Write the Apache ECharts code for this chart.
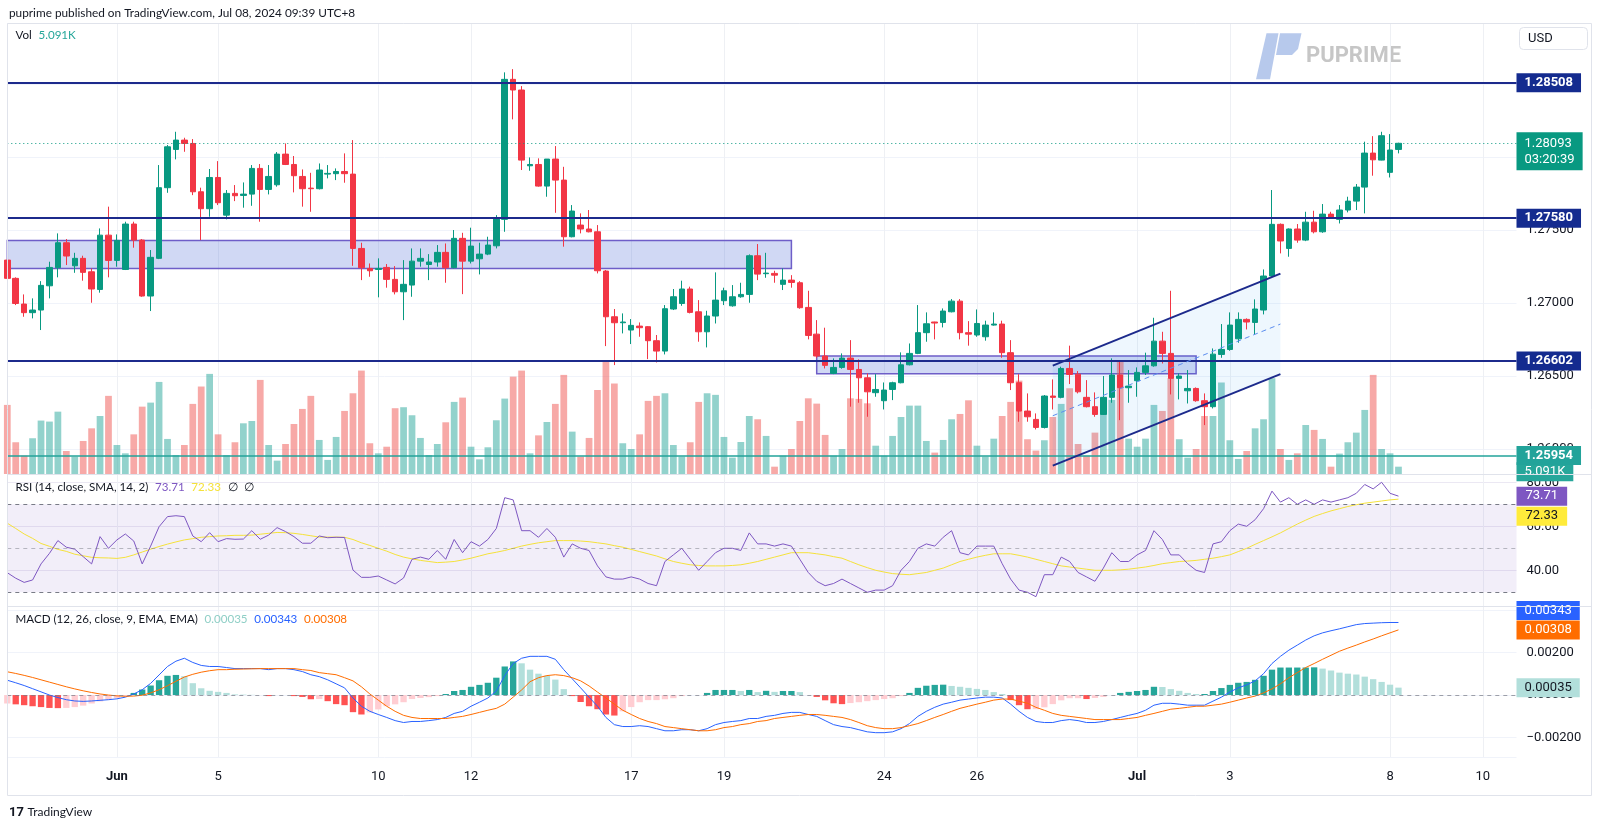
<!DOCTYPE html>
<html><head><meta charset="utf-8">
<script src="https://cdn.jsdelivr.net/npm/echarts@6/dist/echarts.min.js"></script>
<style>html,body{margin:0;padding:0;background:#fff}#c{width:1600px;height:819px}</style>
</head><body><div id="c"></div>
<script>
// ---------------- DATA ----------------
// 4h candles GBPUSD, UTC+8 sessions; first candle 2024-05-29 21:00
const firstCandle = '2024-05-29 21';
const totalSlots = 180; // candles + empty future slots
// [open, close, low, high]
const ohlc = [
[1.27293,1.27168,1.27156,1.27442],
[1.27168,1.26996,1.26985,1.27175],[1.26992,1.26933,1.26905,1.27058],[1.26933,1.26951,1.26894,1.27031],[1.26951,1.27120,1.26814,1.27149],[1.27117,1.27243,1.27031,1.27282],
[1.27241,1.27412,1.27175,1.27476],[1.27412,1.27321,1.27259,1.27437],[1.27254,1.27305,1.27206,1.27343],[1.27305,1.27209,1.27152,1.27323],[1.27213,1.27095,1.27001,1.27236],
[1.27092,1.27464,1.27070,1.27510],[1.27464,1.27291,1.27175,1.27659],[1.27291,1.27428,1.27248,1.27469],[1.27229,1.27540,1.27225,1.27556],[1.27540,1.27430,1.27378,1.27556],
[1.27430,1.27047,1.27042,1.27437],[1.27047,1.27312,1.26944,1.27362],[1.27305,1.27789,1.27300,1.27944],[1.27789,1.28069,1.27754,1.28081],[1.28051,1.28115,1.27983,1.28172],
[1.28115,1.28092,1.28035,1.28131],[1.28092,1.27761,1.27738,1.28122],[1.27761,1.27645,1.27430,1.27789],[1.27645,1.27859,1.27590,1.27917],[1.27859,1.27686,1.27670,1.27971],
[1.27601,1.27750,1.27572,1.27773],[1.27750,1.27734,1.27697,1.27807],[1.27736,1.27745,1.27652,1.27825],[1.27745,1.27921,1.27665,1.27944],[1.27921,1.27777,1.27556,1.27951],
[1.27777,1.27866,1.27743,1.27944],[1.27809,1.28019,1.27796,1.28033],[1.28019,1.27948,1.27944,1.28092],[1.27948,1.27871,1.27757,1.28006],[1.27866,1.27782,1.27659,1.27914],
[1.27786,1.27782,1.27624,1.27891],[1.27782,1.27910,1.27777,1.27955],[1.27882,1.27887,1.27853,1.27944],[1.27885,1.27900,1.27841,1.27921],[1.27900,1.27885,1.27823,1.28024],
[1.27882,1.27373,1.27254,1.28115],[1.27373,1.27241,1.27156,1.27412],[1.27236,1.27220,1.27179,1.27270],[1.27229,1.27236,1.27038,1.27305],[1.27243,1.27161,1.27104,1.27266],
[1.27161,1.27076,1.27058,1.27252],[1.27076,1.27127,1.26882,1.27293],[1.27122,1.27286,1.27042,1.27373],[1.27286,1.27305,1.27248,1.27373],[1.27263,1.27280,1.27156,1.27334],
[1.27280,1.27346,1.27248,1.27396],[1.27346,1.27241,1.27138,1.27407],[1.27241,1.27442,1.27236,1.27499],[1.27442,1.27286,1.27060,1.27480],[1.27286,1.27389,1.27270,1.27515],
[1.27302,1.27334,1.27195,1.27412],[1.27334,1.27396,1.27327,1.27453],[1.27391,1.27574,1.27373,1.27601],[1.27572,1.28531,1.27487,1.28579],[1.28531,1.28458,1.28257,1.28601],
[1.28458,1.27978,1.27910,1.28485],[1.27939,1.27948,1.27905,1.27996],[1.27948,1.27800,1.27796,1.27990],[1.27800,1.27985,1.27727,1.27985],[1.27985,1.27841,1.27617,1.28074],
[1.27841,1.27453,1.27385,1.27932],[1.27453,1.27629,1.27449,1.27670],[1.27533,1.27506,1.27476,1.27613],[1.27506,1.27487,1.27483,1.27636],[1.27487,1.27220,1.27202,1.27533],
[1.27218,1.26905,1.26704,1.27225],[1.26905,1.26864,1.26574,1.26958],[1.26864,1.26869,1.26791,1.26928],[1.26814,1.26846,1.26718,1.26889],[1.26841,1.26830,1.26768,1.26866],
[1.26837,1.26741,1.26615,1.26841],[1.26741,1.26670,1.26592,1.26780],[1.26670,1.26960,1.26647,1.26985],[1.26958,1.27042,1.26951,1.27095],[1.26996,1.27095,1.26980,1.27152],
[1.27095,1.26935,1.26928,1.27111],[1.26939,1.26802,1.26734,1.27019],[1.26802,1.26910,1.26695,1.26946],[1.26910,1.27019,1.26859,1.27209],[1.27015,1.27083,1.26985,1.27104],
[1.26980,1.27042,1.26974,1.27122],[1.27042,1.27058,1.27035,1.27138],[1.27058,1.27323,1.27001,1.27332],[1.27323,1.27197,1.27156,1.27403],[1.27200,1.27204,1.27172,1.27343],
[1.27202,1.27190,1.27138,1.27220],[1.27127,1.27156,1.27088,1.27236],[1.27156,1.27140,1.27104,1.27190],[1.27138,1.26967,1.26960,1.27149],[1.26969,1.26777,1.26750,1.27083],
[1.26786,1.26636,1.26624,1.26882],[1.26636,1.26572,1.26551,1.26830],[1.26517,1.26558,1.26512,1.26620],[1.26558,1.26622,1.26549,1.26654],[1.26622,1.26544,1.26289,1.26745],
[1.26544,1.26487,1.26316,1.26613],[1.26487,1.26391,1.26220,1.26517],[1.26385,1.26407,1.26357,1.26512],[1.26330,1.26403,1.26270,1.26455],[1.26407,1.26453,1.26334,1.26460],
[1.26453,1.26576,1.26449,1.26661],[1.26576,1.26654,1.26572,1.26722],[1.26654,1.26796,1.26649,1.26985],[1.26796,1.26857,1.26734,1.26935],[1.26869,1.26862,1.26750,1.26871],
[1.26866,1.26944,1.26832,1.26962],[1.26939,1.27012,1.26935,1.27026],[1.27012,1.26796,1.26750,1.27026],[1.26796,1.26786,1.26707,1.26875],[1.26780,1.26859,1.26768,1.26955],
[1.26768,1.26848,1.26741,1.26878],[1.26848,1.26855,1.26844,1.26935],[1.26855,1.26659,1.26624,1.26878],[1.26659,1.26453,1.26403,1.26745],[1.26453,1.26259,1.26186,1.26512],
[1.26259,1.26220,1.26186,1.26380],[1.26202,1.26147,1.26133,1.26243],[1.26147,1.26362,1.26140,1.26369],[1.26362,1.26353,1.26270,1.26476],[1.26353,1.26551,1.26346,1.26563],
[1.26551,1.26510,1.26444,1.26707],[1.26512,1.26391,1.26380,1.26533],[1.26353,1.26289,1.26284,1.26471],[1.26289,1.26236,1.26220,1.26387],[1.26236,1.26353,1.26232,1.26499],
[1.26353,1.26506,1.26316,1.26620],[1.26506,1.26419,1.26197,1.26601],[1.26419,1.26430,1.26316,1.26540],[1.26467,1.26524,1.26357,1.26558],[1.26524,1.26569,1.26506,1.26659],
[1.26569,1.26738,1.26563,1.26898],[1.26738,1.26654,1.26585,1.26802],[1.26654,1.26483,1.26373,1.27083],[1.26483,1.26499,1.26339,1.26517],[1.26398,1.26414,1.26311,1.26540],
[1.26414,1.26330,1.26323,1.26421],[1.26330,1.26289,1.26163,1.26380],[1.26289,1.26649,1.26277,1.26688],[1.26647,1.26681,1.26624,1.26855],[1.26681,1.26848,1.26672,1.26935],
[1.26754,1.26887,1.26727,1.26935],[1.26887,1.26869,1.26818,1.26894],[1.26866,1.26958,1.26780,1.27024],[1.26951,1.27184,1.26921,1.27229],[1.27184,1.27538,1.27179,1.27773],
[1.27538,1.27424,1.27339,1.27544],[1.27373,1.27506,1.27316,1.27510],[1.27506,1.27430,1.27412,1.27540],[1.27430,1.27553,1.27423,1.27624],[1.27553,1.27487,1.27476,1.27631],
[1.27487,1.27608,1.27480,1.27677],[1.27608,1.27585,1.27581,1.27624],[1.27572,1.27636,1.27544,1.27670],[1.27636,1.27697,1.27620,1.27727],[1.27697,1.27793,1.27636,1.27814],
[1.27793,1.28026,1.27613,1.28104],[1.28026,1.27980,1.27871,1.28142],[1.27978,1.28145,1.27976,1.28172],[1.27894,1.28047,1.27859,1.28156],[1.28051,1.28093,1.28024,1.28097]
];
// volume, thousands
const volume = [48.1,22.1,12.8,24.9,37.2,36.5,43.4,16.0,12.1,23.0,31.8,40.4,54.4,20.2,14.4,27.6,46.9,49.7,64.1,24.4,
13.2,20.2,48.8,60.9,69.7,27.6,13.2,22.1,35.3,36.9,65.5,20.2,9.3,20.9,34.8,45.3,54.4,23.7,9.8,25.8,
43.9,56.2,72.0,21.4,14.4,19.0,45.8,46.5,40.9,25.1,13.2,20.9,36.0,50.2,53.2,19.0,10.2,18.6,37.4,52.5,
67.8,72.0,14.4,26.9,36.2,48.8,69.0,29.5,12.1,25.1,58.5,78.3,63.0,21.4,17.4,27.6,50.9,54.4,56.2,20.2,
12.1,22.1,50.2,56.2,55.1,25.8,11.4,22.3,40.4,38.1,26.5,5.1,12.8,17.4,36.9,52.7,49.0,27.2,12.8,17.4,
52.7,52.3,49.2,19.7,12.8,26.5,39.7,47.6,47.6,23.0,14.9,23.7,38.1,41.8,51.3,19.7,12.1,24.6,40.4,50.2,
65.0,24.2,16.3,23.5,39.7,48.8,59.7,20.9,12.8,28.8,41.6,51.6,78.7,24.6,19.0,24.6,48.1,43.9,66.7,24.2,
11.4,17.4,40.4,40.4,63.7,23.5,10.5,16.0,31.8,38.1,66.7,17.4,9.8,14.4,34.1,30.7,24.4,5.1,14.2,22.1,
28.8,44.6,69.0,17.4,14.4,5.091];
const rsi = [38.9,36.4,34.5,35.6,42.9,47.7,53.5,50.5,49.6,46.2,42.9,55.3,50.0,53.8,56.5,53.3,42.9,51.0,59.8,64.4,
64.8,64.4,55.6,53.0,57.1,53.0,54.4,54.1,54.2,58.0,54.1,56.0,59.4,57.6,55.3,52.3,52.3,55.6,54.8,55.0,
54.9,40.1,36.8,36.8,37.4,35.6,33.8,36.5,45,46,45,49,45,54,48,53,51,54,59,73,
72,58,58,55,59,55,46,52,50,49,42,37,36,36,37,36,34,33,44,47,
50,45,40,44,48,50,50,49,57,52,52,51,52,51,45,39,35,33,34,36,
34,32,30,31,31,33,40,44,50,52,51,55,58,48,47,51,51,51,43,36,
31,30,28,38,38,46,44,39,37,35,41,48,44,44,47,49,58,54,47,47,
43,40,39,52,53,58,61,60,63,68,76,71,73,70,72,70,72,71,72,73,
75,79,77,80,75,73.71];
const rsiMa = [61.4,59,56.5,54.5,52.2,50.9,49.5,48.6,47.3,46.6,45.9,45.7,45.6,45.4,45.9,47,48.3,49.6,50.8,51.9,
52.9,53.8,54.4,55,55.3,55.6,55.7,55.9,55.9,56,56.4,56.8,57.2,57.1,56.8,56.3,55.7,55.1,55.1,55.1,
55,54,52.5,51.3,50,48.7,47.2,46,45.2,44.5,44,43.5,43.7,44,44.7,45.5,46.5,47.5,48.2,49,
50,51,51.8,52.5,53,53.5,53.5,53.5,53.3,53,52.5,52,51.2,50.5,49.5,48.5,47.5,46.5,45.2,44,
43.2,42.5,42.2,42,42,42,42.2,42.5,43.2,44,45,46,47,48,48,48,47.5,47,46.2,45.5,
44,42.5,41.2,40,39.2,38.5,38.2,38,38.5,39,40,41,42.5,44,45,46,46.8,47.5,47.5,47.5,
46.8,46,45,44,43,42,41.5,41,40.5,40,40,40,40.2,40.5,41,41.5,42.2,43,43.5,44,
44.2,44.5,45,45.5,46.2,47,48.5,50,51.8,53.5,55.2,57,59,61,62.8,64.5,65.8,67,68,69,
69.8,70.5,71,71.5,72,72.33];
const macd = [.0007,.00058,.00045,.0003,.00015,0,-.00012,-.00022,-.00028,-.0003,-.00028,-.00025,-.00022,-.00018,-.0001,.00005,.00025,.00055,.00095,.00135,
.0016,.00174,.00154,.0014,.00135,.00135,.0013,.00125,.00125,.00125,.00125,.0012,.00125,.00125,.0012,.00111,.00096,.00087,.00072,.00053,
.00034,-.00014,-.00053,-.00077,-.00092,-.00106,-.00121,-.0013,-.00125,-.00125,-.00121,-.00116,-.00106,-.00087,-.00077,-.00053,-.00034,-.00014,.00019,.00092,
.00149,.00174,.00183,.00183,.00183,.00169,.0012,.00077,.00034,-.0001,-.00053,-.00106,-.0014,-.00149,-.00149,-.00145,-.00149,-.00159,-.00169,-.00169,
-.00164,-.00164,-.00169,-.00159,-.0014,-.0013,-.00125,-.00121,-.00111,-.00111,-.00101,-.00096,-.00087,-.00082,-.00082,-.00092,-.00101,-.00121,-.0014,-.00149,
-.00154,-.00164,-.00174,-.00178,-.00178,-.00174,-.00159,-.00135,-.00101,-.00077,-.00058,-.00043,-.00034,-.00024,-.00019,-.00014,-.0001,-.0001,-.00014,-.00043,
-.00077,-.00106,-.00125,-.0013,-.0013,-.00121,-.00116,-.00121,-.0013,-.0013,-.00125,-.00116,-.00106,-.00096,-.00087,-.00072,-.00048,-.00039,-.00039,-.00043,
-.00048,-.00048,-.00048,-.00029,-.0001,.00014,.00034,.00048,.00067,.00101,.00149,.00183,.00212,.00236,.0026,.0028,.00294,.00304,.00313,.00323,
.00333,.00338,.0034,.00342,.00343,.00343];
const signal = [.0011,.00102,.00093,.00083,.00072,.00061,.0005,.00039,.00029,.0002,.00012,.00005,0,-.00004,-.00006,-.00005,-.00001,.0001,.00025,.00044,
.00065,.00085,.00098,.00108,.00115,.0012,.0012,.00122,.00123,.00124,.00125,.00125,.00125,.00125,.00125,.0012,.00116,.00106,.00101,.00096,
.00082,.00067,.00039,.00005,-.00024,-.00053,-.00077,-.00096,-.00106,-.00111,-.00111,-.00111,-.00111,-.00106,-.00101,-.00092,-.00082,-.00072,-.00063,-.00043,
-.0001,.00024,.00063,.00082,.00092,.00096,.00092,.00082,.00067,.00043,.00014,-.00014,-.00043,-.00072,-.00092,-.00111,-.00125,-.00135,-.00149,-.00154,
-.00159,-.00164,-.00169,-.00169,-.00164,-.00154,-.00149,-.0014,-.00135,-.00125,-.00121,-.00111,-.00106,-.00101,-.00096,-.00092,-.00092,-.00096,-.00101,-.00106,
-.00116,-.0013,-.00145,-.00154,-.00159,-.00159,-.00154,-.00145,-.00135,-.00121,-.00106,-.00092,-.00077,-.00063,-.00053,-.00043,-.00034,-.00024,-.00019,-.00019,
-.00029,-.00039,-.00058,-.00072,-.00087,-.00096,-.00101,-.00106,-.00111,-.00116,-.00116,-.00116,-.00116,-.00111,-.00106,-.00096,-.00087,-.00077,-.00067,-.00063,
-.00058,-.00053,-.00053,-.00048,-.00043,-.00034,-.00024,-.00014,-.00005,.0001,.00029,.00053,.00082,.00106,.0013,.00149,.00169,.00188,.00207,.00222,
.00236,.00251,.00265,.0028,.00294,.00308];
const macdHist = [-.0004,-.00044,-.00048,-.00053,-.00057,-.00061,-.00062,-.00061,-.00057,-.0005,-.0004,-.0003,-.00022,-.00014,-.00004,.0001,.00026,.00045,.0007,.00091,
.00095,.00089,.00056,.00032,.0002,.00015,.0001,.00003,.00002,.00001,0,-.00005,0,0,-.00005,-.00009,-.0002,-.00019,-.00029,-.00043,
-.00048,-.00081,-.00092,-.00082,-.00068,-.00053,-.00044,-.00034,-.00019,-.00014,-.0001,-.00005,.00005,.00019,.00024,.00039,.00048,.00058,.00082,.00135,
.00159,.0015,.0012,.00101,.00091,.00073,.00028,-.00005,-.00033,-.00053,-.00067,-.00092,-.00097,-.00077,-.00057,-.00034,-.00024,-.00024,-.0002,-.00015,
-.00005,0,0,.0001,.00024,.00024,.00024,.00019,.00024,.00014,.0002,.00015,.00019,.00019,.00014,0,-.00009,-.00025,-.00039,-.00043,
-.00038,-.00034,-.00029,-.00024,-.00019,-.00015,-.00005,.0001,.00034,.00044,.00048,.00049,.00043,.00039,.00034,.00029,.00024,.00014,.00005,-.00024,
-.00048,-.00067,-.00067,-.00058,-.00043,-.00025,-.00015,-.00015,-.00019,-.00014,-.00009,0,.0001,.00015,.00019,.00024,.00039,.00038,.00028,.0002,
.0001,.00005,.00005,.00019,.00033,.00048,.00058,.00062,.00072,.00091,.0012,.0013,.0013,.0013,.0013,.00131,.00125,.00116,.00106,.00101,
.00097,.00087,.00075,.00062,.00049,.00035];

// horizontal levels (drawn lines), boxes and channel
const navyLevels = [1.28508, 1.27580, 1.26602];
const tealLevel = 1.25954;
const lastPrice = 1.28093, countdown = '03:20:39';
const lastVolume = 5.091, lastVolumeLabel = '5.091K';
const rsiLast = 73.71, rsiMaLast = 72.33;
const macdLast = 0.00343, signalLast = 0.00308, histLast = 0.00035;
const zoneA = {fromCandle:-1, toCandle:92, top:1.27428, bottom:1.27236};
const zoneB = {fromCandle:95, toCandle:140, top:1.26636, bottom:1.26515};
const channel = {fromCandle:123, toCandle:150, upper:[1.26570,1.27200], lower:[1.25885,1.26512], mid:[1.26227,1.26855]};

// axis ticks
const tickDays = ['2024-06-01','2024-06-05','2024-06-10','2024-06-12','2024-06-17','2024-06-19','2024-06-24','2024-06-26','2024-07-01','2024-07-03','2024-07-08','2024-07-10'];
const tickLabels = ['Jun','5','10','12','17','19','24','26','Jul','3','8','10'];
const monthLabels = ['Jun','Jul'];

// ---------------- BUILD ----------------
function buildCategories(){
  const out=[]; const d=new Date(Date.UTC(2024,4,29)); const end=Date.UTC(2024,6,12);
  while(d.getTime()<end){
    const dow=d.getUTCDay();
    const hrs = dow===0?[]:dow===1?['05','09','13','17','21']:dow===6?['01']:['01','05','09','13','17','21'];
    const ds=d.toISOString().slice(0,10);
    hrs.forEach(h=>out.push(ds+' '+h));
    d.setUTCDate(d.getUTCDate()+1);
  }
  const s=out.indexOf(firstCandle);
  return out.slice(s,s+totalSlots);
}
const categories = buildCategories();
const cat = i => categories[i+1]; // candle index (-1 based start) -> category
const tickCats = tickDays.map(dd=>categories.find(c=>c.startsWith(dd)));
const labelOf = {}; tickCats.forEach((c,k)=>labelOf[c]=tickLabels[k]);
const showTick = (idx,val)=>Object.prototype.hasOwnProperty.call(labelOf,val);

const FONT='Roboto, "Liberation Sans", sans-serif';
const SOFT='Lato, Roboto, sans-serif';
const LEG='11.6px '+SOFT;
const UP='#089981', DOWN='#f23645';
const GRID_L=7.3, GRID_R=83.5;

function xAx(gi, showLabel){
  return {type:'category', gridIndex:gi, data:categories, boundaryGap:false,
    axisLine:{show:false}, axisTick:{show:false},
    axisLabel:{show:showLabel, interval:showTick, margin:13, color:'#131722', fontSize:13, fontFamily:FONT,
      formatter:v=>{const t=labelOf[v]; return monthLabels.includes(t)?'{m|'+t+'}':t;},
      rich:{m:{fontWeight:'bold',fontSize:13,color:'#131722',fontFamily:FONT}}},
    splitLine:{show:true, interval:showTick, lineStyle:{color:'#eef0f4',width:1}}};
}
function tag(text,bg,fg,extra){
  return Object.assign({show:true, position:'end', distance:0, formatter:text, backgroundColor:bg, color:fg,
    fontFamily:FONT, fontSize:13, lineHeight:14, padding:[3,8,2,8], opacity:1}, extra||{});
}
const hidden = {color:'rgba(0,0,0,0)', width:1, opacity:1};
const ML = {symbol:['none','none'], silent:true, precision:6, label:{show:false}};

const volData = volume.map((v,k)=>({value:v, itemStyle:{color: ohlc[k][1]>=ohlc[k][0]?'rgba(38,166,154,0.5)':'rgba(239,83,80,0.5)'}}));
const histData = macdHist.map((v,k)=>{const p=k>0?macdHist[k-1]:v; let c;
  if(v>=0) c = v>=p?'#26a69a':'#b2dfdb'; else c = v<p?'#ff5252':'#ffcdd2'; return {value:v,itemStyle:{color:c}};});

const chart = echarts.init(document.getElementById('c'), null, {renderer:'canvas'});
const option = {
  animation:false,
  backgroundColor:'#ffffff',
  grid:[
    {left:GRID_L,right:GRID_R,top:23,height:451},
    {left:GRID_L,right:GRID_R,top:474,height:132},
    {left:GRID_L,right:GRID_R,top:606,height:151}
  ],
  xAxis:[xAx(0,false), xAx(1,false), xAx(2,true)],
  yAxis:[
    {type:'value', gridIndex:0, position:'right', min:1.25828, max:1.28917, splitNumber:6,
      axisLine:{show:false}, axisTick:{show:false},
      axisLabel:{margin:10, color:'#131722', fontSize:13, fontFamily:FONT, showMinLabel:false, showMaxLabel:false, formatter:v=>v.toFixed(5)},
      splitLine:{lineStyle:{color:'#f0f3fa'}}},
    {type:'value', gridIndex:0, min:0, max:314, show:false, splitLine:{show:false}},
    {type:'value', gridIndex:1, position:'right', min:23.77, max:83.77, splitNumber:3,
      axisLine:{show:false}, axisTick:{show:false},
      axisLabel:{margin:10, color:'#131722', fontSize:13, fontFamily:FONT, showMinLabel:false, showMaxLabel:false, formatter:v=>v.toFixed(2)},
      splitLine:{lineStyle:{color:'#ebe8f3'}}},
    {type:'value', gridIndex:2, position:'right', min:-0.00293, max:0.00421, splitNumber:3,
      axisLine:{show:false}, axisTick:{show:false},
      axisLabel:{margin:10, color:'#131722', fontSize:13, fontFamily:FONT, showMinLabel:false, showMaxLabel:false,
        formatter:v=>(Math.abs(v)<1e-9?0:v).toFixed(5).replace('-','\u2212')},
      splitLine:{lineStyle:{color:'#f0f3fa'}}}
  ],
  series:[
    {type:'bar', name:'Vol', xAxisIndex:0, yAxisIndex:1, data:volData, barWidth:'80%', z:1, silent:true,
      markLine:Object.assign({}, ML, {data:[{yAxis:lastVolume, lineStyle:hidden, label:tag(lastVolumeLabel,'#26a69a','#ffffff',{offset:[0,5]})}]})},
    {type:'custom', name:'channel', xAxisIndex:0, yAxisIndex:0, z:2, silent:true,
      data:[[channel.fromCandle+1, channel.upper[0], channel.lower[0], channel.toCandle+1, channel.upper[1], channel.lower[1]]],
      encode:{x:[0,3], y:[1,2,4,5]},
      renderItem:(params,api)=>{
        const a=api.coord([api.value(0),api.value(1)]), b=api.coord([api.value(3),api.value(4)]);
        const c=api.coord([api.value(3),api.value(5)]), d=api.coord([api.value(0),api.value(2)]);
        return {type:'polygon', shape:{points:[a,b,c,d]}, style:{fill:'rgba(33,150,243,0.08)'}};
      }},
    {type:'candlestick', name:'GBPUSD', xAxisIndex:0, yAxisIndex:0, data:ohlc, barWidth:6, z:3,
      itemStyle:{color:UP, color0:DOWN, borderColor:UP, borderColor0:DOWN, borderWidth:1},
      markArea:{silent:true, label:{show:false},
        itemStyle:{color:'rgba(67,99,211,0.25)', borderColor:'#6e5ec8', borderWidth:1.5},
        data:[
          [{xAxis:cat(zoneA.fromCandle), yAxis:zoneA.top},{xAxis:cat(zoneA.toCandle), yAxis:zoneA.bottom}],
          [{xAxis:cat(zoneB.fromCandle), yAxis:zoneB.top},{xAxis:cat(zoneB.toCandle), yAxis:zoneB.bottom}]
        ]},
      markLine:Object.assign({}, ML, {
        data:[
          ...navyLevels.map(v=>({yAxis:v, lineStyle:{color:'#1c2a8c',width:2,type:'solid'},
             label:tag(v.toFixed(5),'#142b8f','#ffffff',{fontWeight:'bold'})})),
          {yAxis:tealLevel, lineStyle:{color:'#22a39a',width:1.5,type:'solid'}, label:tag(tealLevel.toFixed(5),'#22a39a','#ffffff',{fontWeight:'bold'})},
          {yAxis:lastPrice, lineStyle:{color:'#089981',width:1,type:[1,3]},
             label:tag(lastPrice.toFixed(5)+'\n'+countdown,'#089981','#ffffff',{lineHeight:16,padding:[3,8,3,8],offset:[0,8]})},
          [{coord:[cat(channel.fromCandle),channel.upper[0]], lineStyle:{color:'#1c2a8c',width:2,type:'solid'}},{coord:[cat(channel.toCandle),channel.upper[1]]}],
          [{coord:[cat(channel.fromCandle),channel.lower[0]], lineStyle:{color:'#1c2a8c',width:2,type:'solid'}},{coord:[cat(channel.toCandle),channel.lower[1]]}],
          [{coord:[cat(channel.fromCandle),channel.mid[0]], lineStyle:{color:'#5b8def',width:1,type:[5,4]}},{coord:[cat(channel.toCandle),channel.mid[1]]}]
        ]})},
    {type:'line', name:'RSI', xAxisIndex:1, yAxisIndex:2, data:rsi, showSymbol:false, z:3,
      lineStyle:{color:'#7e57c2',width:1}, itemStyle:{color:'#7e57c2'},
      markArea:{silent:true, itemStyle:{color:'rgba(126,87,194,0.1)'}, data:[[{yAxis:70},{yAxis:30}]]},
      markLine:Object.assign({}, ML, {
        data:[
          {yAxis:70, lineStyle:{color:'#787b86',type:[4,4],width:1}},
          {yAxis:50, lineStyle:{color:'rgba(120,123,134,0.5)',type:[4,4],width:1}},
          {yAxis:30, lineStyle:{color:'#787b86',type:[4,4],width:1}},
          {yAxis:rsiLast, lineStyle:hidden, label:tag(rsiLast.toFixed(2),'#7e57c2','#ffffff',{padding:[3,9,2,9]})},
          {yAxis:rsiMaLast, lineStyle:hidden, label:tag(rsiMaLast.toFixed(2),'#ffeb3b','#131722',{padding:[3,9,2,9],offset:[0,17]})}
        ]})},
    {type:'line', name:'RSI MA', xAxisIndex:1, yAxisIndex:2, data:rsiMa, showSymbol:false, z:2,
      lineStyle:{color:'#f5e23a',width:1}},
    {type:'bar', name:'Histogram', xAxisIndex:2, yAxisIndex:3, data:histData, barWidth:'75%', z:1,
      markLine:Object.assign({}, ML, {
        data:[{yAxis:0, lineStyle:{color:'#787b86',type:[4,4],width:1,opacity:0.7}},
              {yAxis:histLast, lineStyle:hidden, label:tag(histLast.toFixed(5),'#b2dfdb','#131722')}]})},
    {type:'line', name:'MACD', xAxisIndex:2, yAxisIndex:3, data:macd, showSymbol:false, z:3,
      lineStyle:{color:'#2962ff',width:1},
      markLine:Object.assign({}, ML, {
        data:[{yAxis:macdLast, lineStyle:hidden, label:tag(macdLast.toFixed(5),'#2962ff','#ffffff',{offset:[0,-12]})}]})},
    {type:'line', name:'Signal', xAxisIndex:2, yAxisIndex:3, data:signal, showSymbol:false, z:3,
      lineStyle:{color:'#ff6d00',width:1},
      markLine:Object.assign({}, ML, {
        data:[{yAxis:signalLast, lineStyle:hidden, label:tag(signalLast.toFixed(5),'#ff6d00','#ffffff')}]})}
  ],
  graphic:[
    {type:'line', shape:{x1:7.5,y1:23.5,x2:1591.5,y2:23.5}, style:{stroke:'#e0e3eb',lineWidth:1}, z:10},
    {type:'line', shape:{x1:7.5,y1:23.5,x2:7.5,y2:795.5}, style:{stroke:'#e0e3eb',lineWidth:1}, z:10},
    {type:'line', shape:{x1:1591.5,y1:23.5,x2:1591.5,y2:795.5}, style:{stroke:'#e0e3eb',lineWidth:1}, z:10},
    {type:'line', shape:{x1:7.5,y1:795.5,x2:1591.5,y2:795.5}, style:{stroke:'#e0e3eb',lineWidth:1}, z:10},
    {type:'line', shape:{x1:7.5,y1:474.5,x2:1591.5,y2:474.5}, style:{stroke:'#e0e3eb',lineWidth:1}, z:10},
    {type:'line', shape:{x1:7.5,y1:606.5,x2:1591.5,y2:606.5}, style:{stroke:'#e0e3eb',lineWidth:1}, z:10},
    {type:'text', x:9, y:13, style:{text:'puprime published on TradingView.com, Jul 08, 2024 09:39 UTC+8', font:'11.8px '+SOFT, fill:'#131722', verticalAlign:'middle'}},
    {type:'text', x:15.5, y:35, z:20, style:{text:'{a|Vol}  {b|5.091K}', verticalAlign:'middle',
      rich:{a:{fill:'#131722',font:LEG}, b:{fill:'#26a69a',font:LEG}}}},
    {type:'text', x:15.5, y:487.5, z:20, style:{text:'{a|RSI (14, close, SMA, 14, 2)}  {p|73.71}  {y|72.33}  {a|\u2205}  {a|\u2205}', verticalAlign:'middle',
      rich:{a:{fill:'#131722',font:LEG}, p:{fill:'#7e57c2',font:LEG}, y:{fill:'#f5e23a',font:LEG}}}},
    {type:'text', x:15.5, y:619, z:20, style:{text:'{a|MACD (12, 26, close, 9, EMA, EMA)}  {h|0.00035}  {b|0.00343}  {o|0.00308}', verticalAlign:'middle',
      rich:{a:{fill:'#131722',font:LEG}, h:{fill:'#8fcfc6',font:LEG}, b:{fill:'#2962ff',font:LEG}, o:{fill:'#ff6d00',font:LEG}}}},
    {type:'rect', shape:{x:1519.5,y:27.5,width:68,height:22,r:4}, style:{fill:'#ffffff',stroke:'#e0e3eb',lineWidth:1}, z:20},
    {type:'text', x:1528, y:38.5, z:21, style:{text:'USD', font:'13px '+FONT, fill:'#131722', verticalAlign:'middle'}},
    {type:'polygon', shape:{points:[[1256,79.3],[1270,79.3],[1278.5,33.3],[1266.5,33.3]]}, style:{fill:'#b7c9ec'}, z:0},
    {type:'polygon', shape:{points:[[1280,33.3],[1301.5,33.3],[1298,49],[1292,55],[1276,55]]}, style:{fill:'#b7c9ec'}, z:0},
    {type:'text', x:1306, y:56, z:0, style:{text:'PUPRIME', font:'bold 22px '+FONT, fill:'#c6c6c6', verticalAlign:'middle'}},
    {type:'text', x:9, y:812.5, style:{text:'17', font:'bold 13px '+FONT, fill:'#131722', verticalAlign:'middle'}},
    {type:'text', x:27.5, y:812.5, style:{text:'TradingView', font:'12px '+SOFT, fill:'#131722', verticalAlign:'middle'}}
  ]
};
chart.setOption(option);
</script></body></html>
